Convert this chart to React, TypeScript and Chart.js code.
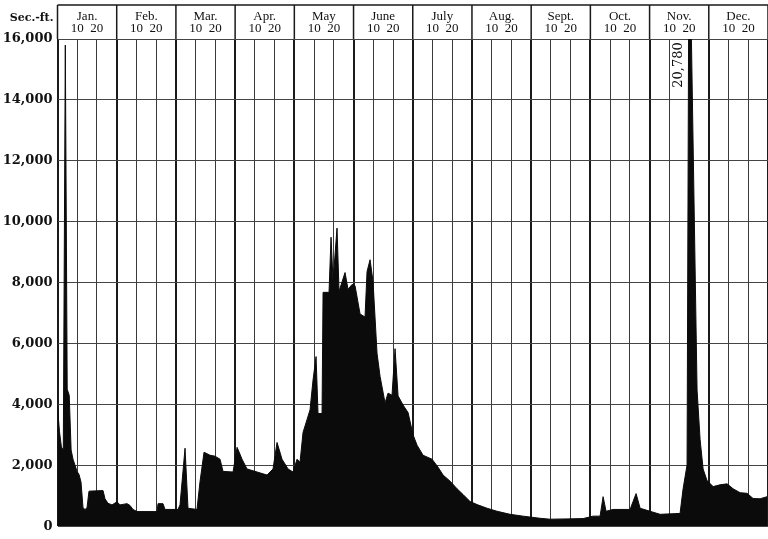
import { useEffect, useRef } from "react";
import { Chart, registerables } from "chart.js";

Chart.register(...registerables);

// Month header labels (each month drawn with equal width, split at the 10th and 20th)
const monthNames = ["Jan.", "Feb.", "Mar.", "Apr.", "May", "June", "July", "Aug.", "Sept.", "Oct.", "Nov.", "Dec."];
const decadeLabel = "10  20";
const yUnitLabel = "Sec.-ft.";
const yTickValues = [0, 2000, 4000, 6000, 8000, 10000, 12000, 14000, 16000];

// Time position in months since Jan 1 (0 .. 12)
const flowTime = [
  0.0, 0.034, 0.066, 0.098, 0.132, 0.164, 0.198, 0.23, 0.262, 0.296, 0.329, 0.363, 0.397, 0.431, 0.465, 0.498,
  0.532, 0.769, 0.802, 0.853, 0.921, 1.005, 1.056, 1.174, 1.225, 1.275, 1.343, 1.681, 1.698, 1.782, 1.816,
  2.035, 2.069, 2.154, 2.204, 2.356, 2.407, 2.475, 2.576, 2.66, 2.745, 2.796, 2.965,
  3.033, 3.117, 3.201, 3.37, 3.539, 3.64, 3.708, 3.792, 3.894, 3.978,
  4.046, 4.096, 4.147, 4.265, 4.316, 4.367, 4.4, 4.468, 4.485, 4.586, 4.62, 4.654, 4.721, 4.755, 4.856, 4.907, 4.975,
  5.025, 5.11, 5.194, 5.228, 5.279, 5.329, 5.397, 5.448, 5.532, 5.583, 5.65, 5.701, 5.752, 5.836, 5.921,
  6.005, 6.073, 6.174, 6.326, 6.427, 6.512, 6.63, 6.748, 6.85, 6.968,
  7.086, 7.255, 7.424, 7.644, 7.863, 8.15, 8.319, 8.606, 8.877,
  9.046, 9.164, 9.215, 9.265, 9.383, 9.671, 9.721, 9.772, 9.84,
  10.008, 10.177, 10.515, 10.566, 10.633, 10.667, 10.802, 10.853, 10.904, 10.97,
  11.073, 11.191, 11.309, 11.41, 11.529, 11.647, 11.748, 11.867, 11.985,
];

// Discharge, second-feet
const flowValue = [
  3900, 3100, 2600, 2500, 15800, 4500, 4300, 2500, 2200, 2000, 1800, 1700, 1450, 600, 550, 600,
  1150, 1170, 900, 750, 700, 800, 700, 740, 680, 550, 480, 480, 740, 740, 550,
  550, 700, 2560, 590, 550, 1460, 2430, 2330, 2300, 2200, 1800, 1780,
  2590, 2200, 1880, 1780, 1680, 1880, 2750, 2200, 1880, 1780,
  2200, 2100, 3080, 3820, 4800, 5570, 3700, 3700, 7680, 7680, 9490, 8040, 9790, 7710, 8330, 7780, 7940,
  7900, 6970, 6870, 8360, 8750, 8040, 5670, 4920, 4050, 4370, 4300, 5830, 4280, 3980, 3730,
  3000, 2660, 2330, 2200, 1940, 1680, 1480, 1230, 1040, 810,
  710, 590, 490, 390, 330, 260, 230, 240, 250,
  330, 330, 970, 490, 550, 550, 810, 1070, 590,
  490, 390, 420, 1230, 2010, 20780, 4470, 2850, 1880, 1500,
  1300, 1360, 1390, 1230, 1100, 1080, 910, 900, 970,
];

const HEADER_HEIGHT = 34;

const isMonthLine = (v: number) => Math.abs(v - Math.round(v)) < 1e-6;

const headerPlugin = {
  id: "hydroHeader",
  afterDraw(chart: any) {
    const { ctx, chartArea, scales } = chart;
    const xs = scales.x;
    const top = chartArea.top - HEADER_HEIGHT;
    ctx.save();
    ctx.strokeStyle = "#1a1a1a";
    ctx.lineWidth = 1.5;
    ctx.beginPath();
    ctx.moveTo(chartArea.left, top);
    ctx.lineTo(chartArea.right, top);
    for (let m = 0; m <= monthNames.length; m++) {
      const px = xs.getPixelForValue(m);
      ctx.moveTo(px, top);
      ctx.lineTo(px, chartArea.top);
    }
    ctx.stroke();

    ctx.fillStyle = "#111";
    ctx.font = "bold 11px 'DejaVu Serif', serif";
    ctx.textAlign = "right";
    ctx.textBaseline = "middle";
    ctx.fillText(yUnitLabel, chartArea.left - 4, top + 13);

    let idx = 0;
    flowValue.forEach((v, i) => {
      if (v > flowValue[idx]) idx = i;
    });
    const px = xs.getPixelForValue(flowTime[idx]);
    ctx.translate(px - 10, chartArea.top + 26);
    ctx.rotate(-Math.PI / 2);
    ctx.textAlign = "center";
    ctx.font = "13px 'DejaVu Serif', serif";
    ctx.fillText(flowValue[idx].toLocaleString("en-US"), 0, 0);
    ctx.restore();
  },
};

export default function App() {
  const canvasRef = useRef<HTMLCanvasElement | null>(null);

  useEffect(() => {
    if (!canvasRef.current) return;
    const gridTicks: number[] = [];
    for (let m = 0; m < monthNames.length; m++) {
      gridTicks.push(m, m + 1 / 3, m + 2 / 3);
    }
    gridTicks.push(monthNames.length);

    const chart = new Chart(canvasRef.current, {
      type: "line",
      data: {
        datasets: [
          {
            data: flowTime.map((t, i) => ({ x: t, y: flowValue[i] })),
            borderColor: "#0b0b0b",
            backgroundColor: "#0b0b0b",
            borderWidth: 1,
            pointRadius: 0,
            fill: "origin",
            tension: 0,
            xAxisID: "x",
            yAxisID: "y",
          },
        ],
      },
      options: {
        animation: false,
        responsive: true,
        maintainAspectRatio: false,
        layout: { padding: { top: 5, bottom: 4, left: 0, right: 0 } },
        plugins: { legend: { display: false }, tooltip: { enabled: false } },
        scales: {
          x: {
            type: "linear",
            position: "bottom",
            min: 0,
            max: 12,
            afterBuildTicks: (axis: any) => {
              axis.ticks = gridTicks.map((v) => ({ value: v }));
            },
            ticks: { display: false },
            grid: {
              drawTicks: false,
              color: (c: any) => (isMonthLine(c.tick?.value ?? 0) ? "#1a1a1a" : "#3a3a3a"),
              lineWidth: (c: any) => (isMonthLine(c.tick?.value ?? 0) ? 2 : 1),
            },
            border: { display: false },
            afterFit: (s: any) => {
              s.height = 0;
            },
          },
          xTop: {
            type: "linear",
            position: "top",
            min: 0,
            max: 12,
            afterBuildTicks: (axis: any) => {
              axis.ticks = monthNames.map((_, i) => ({ value: i + 0.5 }));
            },
            ticks: {
              autoSkip: false,
              maxRotation: 0,
              minRotation: 0,
              padding: 4,
              color: "#111",
              font: { family: "'Liberation Serif', serif", size: 13, lineHeight: "12px" },
              callback: (_v: any, i: number) => [monthNames[i], decadeLabel],
            },
            grid: { display: false, drawTicks: false },
            border: { display: false },
            afterFit: (s: any) => {
              s.height = HEADER_HEIGHT;
            },
          },
          y: {
            type: "linear",
            min: 0,
            max: 16000,
            afterBuildTicks: (axis: any) => {
              axis.ticks = yTickValues.map((v) => ({ value: v }));
            },
            ticks: {
              padding: 5,
              color: "#111",
              font: { family: "'DejaVu Serif', serif", size: 13, weight: "bold" },
              callback: (v: any) => Number(v).toLocaleString("en-US"),
            },
            grid: { drawTicks: false, color: "#444", lineWidth: 1 },
            border: { display: false },
            afterFit: (s: any) => {
              s.width = 57.5;
            },
          },
        },
      },
      plugins: [headerPlugin],
    });
    return () => chart.destroy();
  }, []);

  return (
    <div style={{ position: "fixed", left: 0, top: 0, width: 768, height: 539, background: "#fff" }}>
      <canvas ref={canvasRef} />
    </div>
  );
}
